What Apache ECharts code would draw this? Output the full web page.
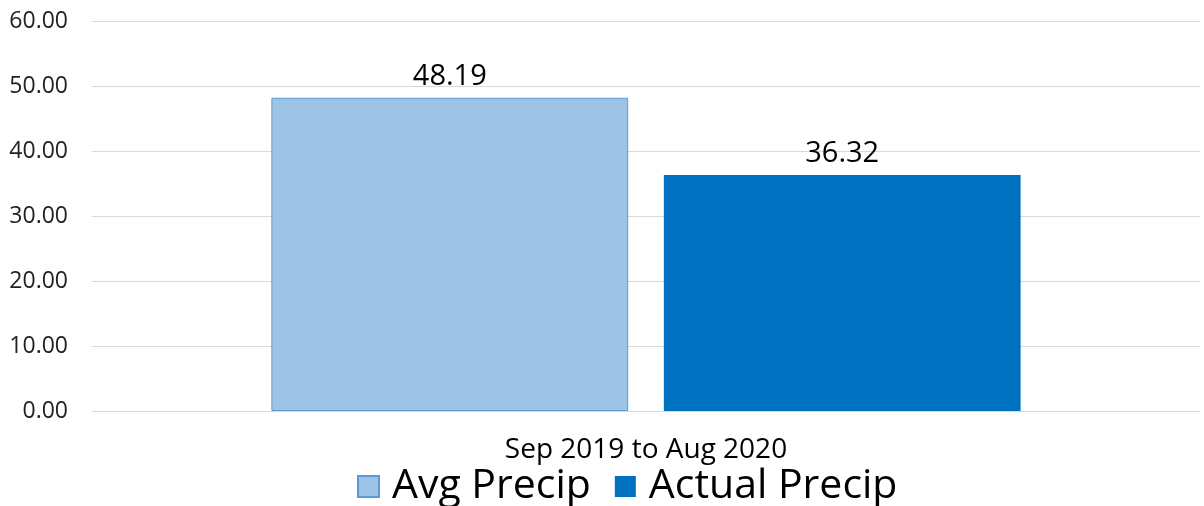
<!DOCTYPE html>
<html>
<head>
<meta charset="utf-8" />
<title>Precip</title>
<script src="https://cdn.jsdelivr.net/npm/echarts@6/dist/echarts.min.js"></script>
<style>
  html, body { margin: 0; padding: 0; background: #fff; }
  #main { width: 1204px; height: 506px; }
</style>
</head>
<body>
<div id="main"></div>
<script>
  var categories = ['Sep 2019 to Aug 2020'];
  var avgPrecip = [48.19];
  var actualPrecip = [36.32];
  var yTicks = { min: 0, max: 60, interval: 10 };

  var font = 'Open Sans, Noto Sans, sans-serif';
  var chart = echarts.init(document.getElementById('main'));
  var option = {
    animation: false,
    grid: { left: 92, right: 4, top: 21, bottom: 95 },
    legend: {
      bottom: -6,
      left: 352,
      icon: 'rect',
      itemWidth: 21,
      itemHeight: 21,
      itemGap: 24,
      textStyle: { fontSize: 41, color: '#000', fontFamily: font, padding: [0, 0, 0, 8] },
      data: ['Avg Precip', 'Actual Precip']
    },
    xAxis: {
      type: 'category',
      data: categories,
      axisLine: { lineStyle: { color: '#d9d9d9' } },
      axisTick: { show: false },
      axisLabel: { fontSize: 28, color: '#000', margin: 25, fontFamily: font }
    },
    yAxis: {
      type: 'value',
      min: yTicks.min,
      max: yTicks.max,
      interval: yTicks.interval,
      axisLine: { show: false },
      axisTick: { show: false },
      splitLine: { lineStyle: { color: '#d9d9d9', width: 1 } },
      axisLabel: {
        fontSize: 23, color: '#222', margin: 24, fontFamily: font,
        formatter: function (v) { return v.toFixed(2); }
      }
    },
    series: [
      {
        name: 'Avg Precip',
        type: 'bar',
        data: avgPrecip,
        barWidth: '32.2%',
        barGap: '10%',
        itemStyle: { color: '#9dc3e6', borderColor: '#5b9bd5', borderWidth: 1 },
        label: {
          show: true, position: 'top', distance: 7, fontSize: 29, color: '#000', fontFamily: font,
          formatter: function (p) { return p.value.toFixed(2); }
        }
      },
      {
        name: 'Actual Precip',
        type: 'bar',
        data: actualPrecip,
        barWidth: '32.2%',
        itemStyle: { color: '#0070c0' },
        label: {
          show: true, position: 'top', distance: 7, fontSize: 29, color: '#000', fontFamily: font,
          formatter: function (p) { return p.value.toFixed(2); }
        }
      }
    ]
  };
  chart.setOption(option);
</script>
</body>
</html>
